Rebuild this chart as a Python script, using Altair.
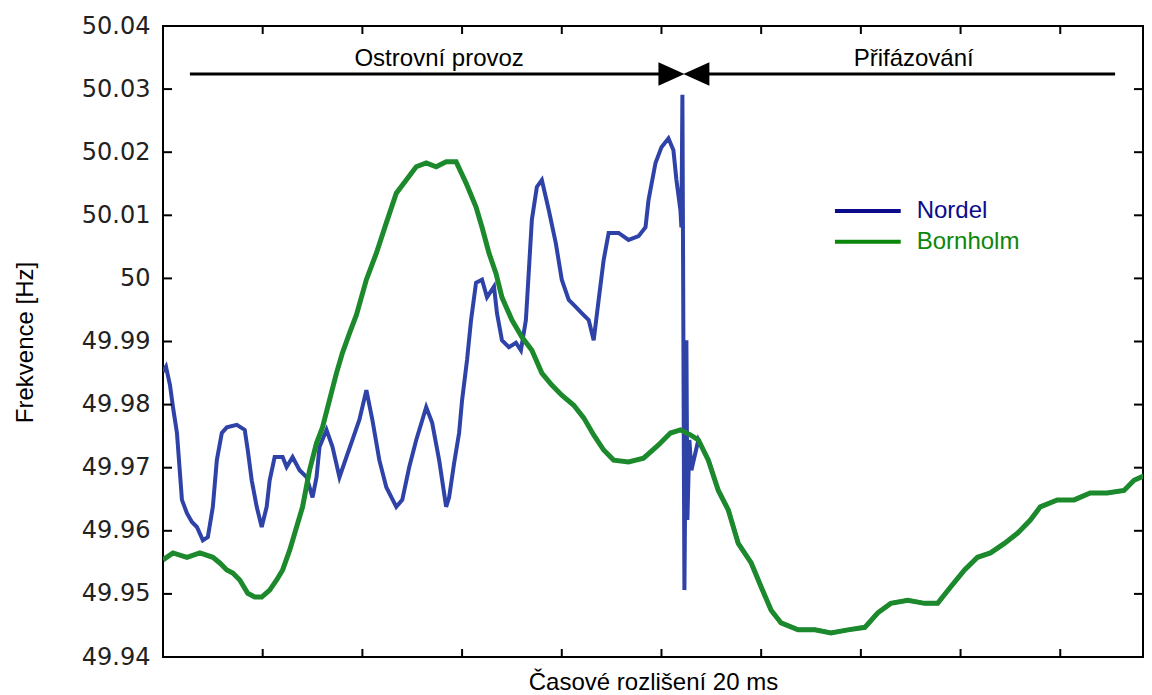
import altair as alt
import pandas as pd

# ---------------- data (time in 20 ms samples, frequency in Hz) ----------------
nordel_t = [0, 3, 7, 10, 14, 19, 24, 29, 34, 40, 45, 50, 54, 59, 64, 74, 82, 85, 89, 94,
            99, 104, 107, 112, 120, 124, 130, 137, 144, 150, 154, 157, 164, 170, 177, 184,
            190, 197, 204, 210, 217, 224, 234, 240, 247, 254, 264, 270, 277, 284, 287, 292,
            297, 300, 305, 309, 314, 320, 325, 332, 335, 340, 347, 354, 359, 364, 367, 370,
            375, 380, 387, 394, 400, 407, 414, 420, 427, 432, 437, 442, 447, 457, 467, 477,
            484, 487, 494, 500, 507, 512, 515, 519, 520, 521, 523, 525, 526, 528, 530,
            537, 547, 557, 567, 577, 590, 600, 610, 620, 637, 654, 670, 687, 704, 717, 730,
            747, 764, 777, 790, 804, 817, 830, 844, 857, 870, 880, 897, 914, 930, 947, 964,
            974, 989]
nordel_f = [49.9852, 49.9860, 49.9831, 49.9796, 49.9755, 49.9649, 49.9628, 49.9614, 49.9606,
            49.9585, 49.9590, 49.9638, 49.9712, 49.9755, 49.9764, 49.9768, 49.9760, 49.9728,
            49.9680, 49.9638, 49.9606, 49.9638, 49.9680, 49.9717, 49.9717, 49.9701, 49.9717,
            49.9696, 49.9685, 49.9653, 49.9685, 49.9733, 49.9760, 49.9733, 49.9685, 49.9717,
            49.9744, 49.9776, 49.9823, 49.9776, 49.9712, 49.9669, 49.9638, 49.9649, 49.9701,
            49.9744, 49.9796, 49.9771, 49.9712, 49.9638, 49.9653, 49.9707, 49.9755, 49.9807,
            49.9871, 49.9934, 49.9993, 49.9998, 49.9970, 49.9987, 49.9945, 49.9902, 49.9891,
            49.9898, 49.9886, 49.9934, 50.0013, 50.0093, 50.0145, 50.0156, 50.0108, 50.0056,
            49.9998, 49.9966, 49.9955, 49.9945, 49.9934, 49.9902, 49.9966, 50.0029, 50.0072,
            50.0072, 50.0061, 50.0067, 50.0081, 50.0124, 50.0183, 50.0208, 50.0222, 50.0203,
            50.0156, 50.0108, 50.0081, 50.0291, 49.9506, 49.9902, 49.9617, 49.9744, 49.9696,
            49.9744, 49.9712, 49.9664, 49.9633, 49.9580, 49.9549, 49.9511, 49.9474, 49.9454,
            49.9443, 49.9443, 49.9438, 49.9443, 49.9447, 49.9470, 49.9485, 49.9490, 49.9485,
            49.9485, 49.9511, 49.9538, 49.9558, 49.9565, 49.9580, 49.9596, 49.9617, 49.9638,
            49.9649, 49.9649, 49.9660, 49.9660, 49.9664, 49.9680, 49.9691]

bornholm_t = [0, 10, 24, 37, 50, 57, 64, 70, 77, 85, 92, 99, 107, 114, 120, 127, 134, 140,
              147, 154, 160, 167, 174, 180, 187, 194, 204, 214, 224, 234, 244, 254, 264, 274,
              284, 294, 304, 314, 320, 327, 334, 340, 350, 360, 370, 380, 390, 400, 412, 422,
              432, 442, 452, 467, 482, 497, 509, 519, 529, 537, 547, 557, 567, 577, 590, 600,
              610, 620, 637, 654, 670, 687, 704, 717, 730, 747, 764, 777, 790, 804, 817, 830,
              844, 857, 870, 880, 897, 914, 930, 947, 964, 974, 989]
bornholm_f = [49.9554, 49.9565, 49.9558, 49.9565, 49.9558, 49.9549, 49.9538, 49.9533, 49.9522,
              49.9501, 49.9495, 49.9495, 49.9506, 49.9522, 49.9538, 49.9569, 49.9606, 49.9638,
              49.9696, 49.9739, 49.9764, 49.9807, 49.9850, 49.9882, 49.9913, 49.9942, 49.9998,
              50.0040, 50.0088, 50.0135, 50.0156, 50.0177, 50.0183, 50.0177, 50.0185, 50.0185,
              50.0151, 50.0113, 50.0081, 50.0040, 50.0008, 49.9970, 49.9934, 49.9907, 49.9886,
              49.9850, 49.9831, 49.9815, 49.9799, 49.9779, 49.9752, 49.9728, 49.9712, 49.9709,
              49.9715, 49.9736, 49.9755, 49.9760, 49.9752, 49.9744, 49.9712, 49.9664, 49.9633,
              49.9580, 49.9549, 49.9511, 49.9474, 49.9454, 49.9443, 49.9443, 49.9438, 49.9443,
              49.9447, 49.9470, 49.9485, 49.9490, 49.9485, 49.9485, 49.9511, 49.9538, 49.9558,
              49.9565, 49.9580, 49.9596, 49.9617, 49.9638, 49.9649, 49.9649, 49.9660, 49.9660,
              49.9664, 49.9680, 49.9691]

y_ticks = [49.94, 49.95, 49.96, 49.97, 49.98, 49.99, 50.0, 50.01, 50.02, 50.03, 50.04]
x_ticks = [100, 200, 300, 400, 500, 600, 700, 800, 900]

series_names = ["Nordel", "Bornholm"]
phase_labels = ["Ostrovní provoz", "Přifázování"]

# annotation anchors (data coordinates)
phase_label_t = [277, 753]
phase_label_f = [50.0337, 50.0337]
arrow_t_start = [27, 535]
arrow_t_end = [510, 955]
arrow_f = 50.0324
arrow_head_t = [510, 535]
legend_t_start, legend_t_end, legend_text_t = 674, 740, 756
legend_f = [50.0107, 50.0058]

# ---------------- styling ----------------
W, H = 980, 631
curve_colors = ["#2f42a8", "#1c8a2c"]
legend_colors = ["#0b0b8c", "#0a870a"]
FONT = "Liberation Sans"

xs = alt.Scale(domain=[0, 983], nice=False, zero=False)
ys = alt.Scale(domain=[49.94, 50.04], nice=False, zero=False)

nordel_df = pd.DataFrame({"t": nordel_t, "f": nordel_f})
born_df = pd.DataFrame({"t": bornholm_t, "f": bornholm_f})

x_axis = alt.Axis(title="Časové rozlišení 20 ms", labels=False, ticks=False, domain=False,
                  grid=False, titleFont=FONT, titleFontSize=24, titleFontWeight="normal",
                  titleColor="black", titleBaseline="alphabetic", titleX=W / 2, titleY=32,
                  titleAlign="center")
y_axis = alt.Axis(title="Frekvence [Hz]", values=y_ticks, format=".4~r", ticks=False,
                  domain=False, grid=False, labelFont="DejaVu Sans", labelFontSize=24,
                  labelColor="#222222", labelPadding=13, titleFont=FONT, titleFontSize=24,
                  titleFontWeight="normal", titleColor="black", titleAngle=270,
                  titleX=-138, titleY=316, titleAlign="center", titleBaseline="middle")


def X(field):
    return alt.X(field, type="quantitative", scale=xs, axis=x_axis)


def Y(field):
    return alt.Y(field, type="quantitative", scale=ys, axis=y_axis)


nordel_line = alt.Chart(nordel_df).mark_line(color=curve_colors[0], strokeWidth=4,
                                             clip=True).encode(x=X("t"), y=Y("f"))
born_line = alt.Chart(born_df).mark_line(color=curve_colors[1], strokeWidth=5,
                                         clip=True).encode(x=X("t"), y=Y("f"))

# inward ticks (MATLAB style)
ytick_df = pd.DataFrame({"t": [0] * 9, "f": y_ticks[1:-1]})
xtick_df = pd.DataFrame({"t": x_ticks, "f": [49.94] * 9})
tick_style = dict(color="black", strokeWidth=2)
yt_left = alt.Chart(ytick_df).mark_rule(**tick_style).encode(
    y=Y("f"), x=alt.value(0), x2=alt.value(9))
yt_right = alt.Chart(ytick_df).mark_rule(**tick_style).encode(
    y=Y("f"), x=alt.value(W - 9), x2=alt.value(W))
xt_top = alt.Chart(xtick_df).mark_rule(**tick_style).encode(
    x=X("t"), y=alt.value(0), y2=alt.value(8))
xt_bot = alt.Chart(xtick_df).mark_rule(**tick_style).encode(
    x=X("t"), y=alt.value(H - 8), y2=alt.value(H))

# phase arrows
arrow_df = pd.DataFrame({"t": arrow_t_start, "t1": arrow_t_end, "f": [arrow_f, arrow_f]})
arrow_lines = alt.Chart(arrow_df).mark_rule(color="black", strokeWidth=3).encode(
    x=X("t"), x2="t1:Q", y=Y("f"))
head_r = alt.Chart(pd.DataFrame({"t": [arrow_head_t[0]], "f": [arrow_f]})).mark_point(
    shape="M-1,-0.9L1,0L-1,0.9Z", filled=True, color="black", opacity=1, size=676).encode(
    x=X("t"), y=Y("f"))
head_l = alt.Chart(pd.DataFrame({"t": [arrow_head_t[1]], "f": [arrow_f]})).mark_point(
    shape="M1,-0.9L-1,0L1,0.9Z", filled=True, color="black", opacity=1, size=676).encode(
    x=X("t"), y=Y("f"))
phase_df = pd.DataFrame({"t": phase_label_t, "f": phase_label_f, "label": phase_labels})
phase_text = alt.Chart(phase_df).mark_text(font=FONT, fontSize=24, color="black",
                                            align="center", baseline="alphabetic").encode(
    x=X("t"), y=Y("f"), text="label:N")

# legend (drawn manually)
leg_layers = []
for name, col, lf in zip(series_names, legend_colors, legend_f):
    ldf = pd.DataFrame({"t": [legend_t_start], "t1": [legend_t_end], "tt": [legend_text_t],
                        "f": [lf], "name": [name]})
    leg_layers.append(alt.Chart(ldf).mark_rule(color=col, strokeWidth=4).encode(
        x=X("t"), x2="t1:Q", y=Y("f")))
    leg_layers.append(alt.Chart(ldf).mark_text(font=FONT, fontSize=24, color=col, align="left",
                                               baseline="middle").encode(
        x=X("tt"), y=Y("f"), text="name:N"))

chart = alt.layer(
    nordel_line, born_line, yt_left, yt_right, xt_top, xt_bot,
    arrow_lines, head_r, head_l, phase_text, *leg_layers
).properties(
    width=W, height=H,
    autosize=alt.AutoSizeParams(type="none"),
    padding={"left": 155, "top": 18, "right": 1, "bottom": 37},
    background="white",
).configure_view(stroke="black", strokeWidth=2)

chart.save("out.html", embed_options={"renderer": "svg", "actions": False})
